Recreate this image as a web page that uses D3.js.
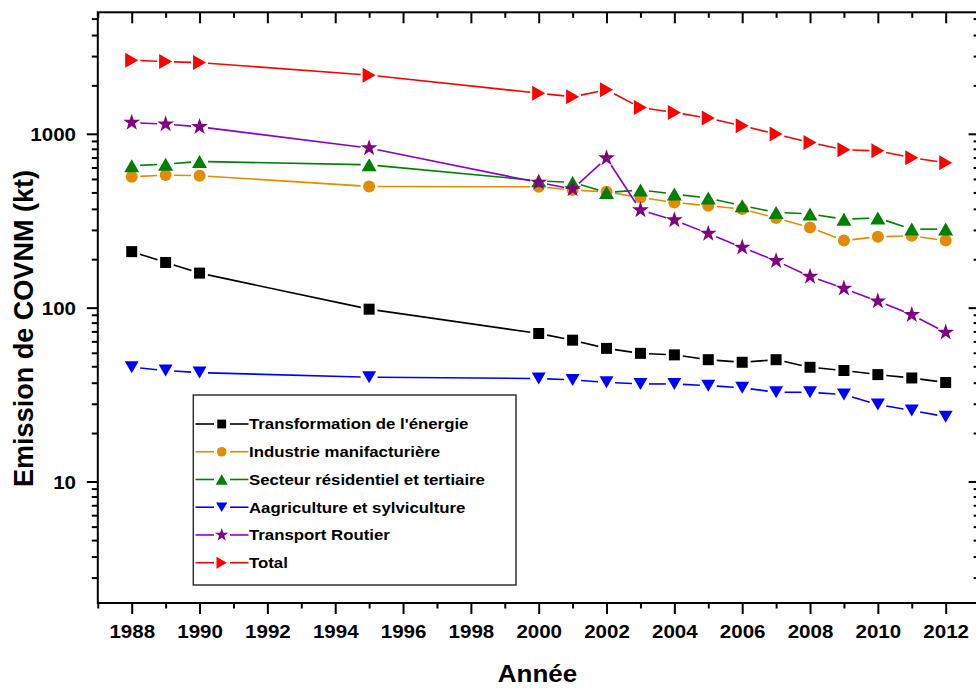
<!DOCTYPE html>
<html>
<head>
<meta charset="utf-8">
<script src="https://cdn.jsdelivr.net/npm/d3@7"></script>
<style>
  html, body { margin: 0; padding: 0; background: #fff; }
  svg { display: block; }
  text { font-family: "Liberation Sans", Arial, sans-serif; font-weight: bold; fill: #000; }
</style>
</head>
<body>
<script>
// ---------------- DATA ----------------
const years = [1988, 1989, 1990, 1995, 2000, 2001, 2002, 2003, 2004, 2005, 2006, 2007, 2008, 2009, 2010, 2011, 2012];
const energie     = [210, 182, 158, 98, 71, 65, 58.3, 54.6, 53.5, 50.2, 48.5, 50.2, 45.4, 43.5, 41.2, 39.4, 37.1];
const industrie   = [566, 579, 574, 498, 496, 475, 464, 430, 403, 386, 369, 328, 289, 243, 256, 259, 243];
const residentiel = [655, 669, 693, 663, 537, 525, 460, 475, 450, 427, 386, 353, 346, 323, 328, 283, 283];
const agriculture = [45.4, 43.5, 42.3, 39.8, 39.1, 38.4, 37.2, 36.4, 36.4, 35.6, 34.6, 32.6, 32.6, 31.6, 27.7, 25.6, 23.6];
const transport   = [1161, 1137, 1097, 828, 525, 481, 725, 364, 319, 267, 222, 186, 151, 129, 109, 91, 72];
const total       = [2652, 2603, 2569, 2175, 1713, 1632, 1790, 1416, 1326, 1231, 1112, 996, 891, 809, 798, 728, 681];

const seriesNames = ["Transformation de l'énergie", "Industrie manifacturière", "Secteur résidentiel et tertiaire",
                     "Aagriculture et sylviculture", "Transport Routier", "Total"];
const xMajorTicks = [1988, 1990, 1992, 1994, 1996, 1998, 2000, 2002, 2004, 2006, 2008, 2010, 2012];
const xMinorTicks = [1987, 1989, 1991, 1993, 1995, 1997, 1999, 2001, 2003, 2005, 2007, 2009, 2011, 2013];
const yMajorTicks = [10, 100, 1000];
const yTickLabels = ["10", "100", "1000"];
const xTitle = "Année";
const yTitle = "Emission de COVNM (kt)";

// ---------------- LAYOUT ----------------
const W = 976, H = 689;
const X0 = 97.8, X1 = 979.6, Y0 = 12.3, Y1 = 603;

const svg = d3.select("body").append("svg").attr("width", W).attr("height", H);
svg.append("rect").attr("width", W).attr("height", H).attr("fill", "#fff");

const x = d3.scaleLinear().domain([1987, 2013]).range([X0, X1]);
const y = d3.scaleLog().domain([2, 5000]).range([Y1, Y0]);

// minor ticks on log axis: 9 linearly spaced ticks per decade (Origin style)
const yMinorTicks = [];
[1, 10, 100, 1000].forEach(d => {
  for (let k = 1; k <= 9; k++) {
    const v = d + k * 0.9 * d;
    if (v > 2 && v < 5000) yMinorTicks.push(v);
  }
});

const TICK_SCALE = 1.11;
function styleAxis(g) {
  g.select(".domain").remove();
  g.selectAll(".tick line").attr("stroke", "#000").attr("stroke-width", 2);
}

// Bottom axis
const gb = svg.append("g").attr("transform", `translate(0,${Y1})`)
  .call(d3.axisBottom(x).tickValues(xMajorTicks).tickSize(11).tickFormat(d3.format("d")));
styleAxis(gb);
gb.selectAll(".tick text").attr("y", 0).attr("dy", 0)
  .attr("transform", `translate(0,35.3) scale(${TICK_SCALE},1)`)
  .attr("font-size", "18.5px").attr("font-family", null).attr("fill", "#000");
const gbm = svg.append("g").attr("transform", `translate(0,${Y1})`)
  .call(d3.axisBottom(x).tickValues(xMinorTicks).tickSize(5.5).tickFormat(""));
styleAxis(gbm);

// Top axis (inward ticks)
const gt = svg.append("g").attr("transform", `translate(0,${Y0})`)
  .call(d3.axisTop(x).tickValues(xMajorTicks).tickSize(-11).tickFormat(""));
styleAxis(gt);
const gtm = svg.append("g").attr("transform", `translate(0,${Y0})`)
  .call(d3.axisTop(x).tickValues(xMinorTicks).tickSize(-5.5).tickFormat(""));
styleAxis(gtm);

// Left axis
const gl = svg.append("g").attr("transform", `translate(${X0},0)`)
  .call(d3.axisLeft(y).tickValues(yMajorTicks).tickSize(11).tickFormat((d, i) => yTickLabels[i]));
styleAxis(gl);
gl.selectAll(".tick text").attr("x", 0).attr("dy", "0.36em")
  .attr("transform", `translate(-21.8,0) scale(${TICK_SCALE},1)`)
  .attr("font-size", "18.5px").attr("font-family", null).attr("fill", "#000");
const glm = svg.append("g").attr("transform", `translate(${X0},0)`)
  .call(d3.axisLeft(y).tickValues(yMinorTicks).tickSize(6).tickFormat(""));
styleAxis(glm);

// Right axis (inward ticks)
const gr = svg.append("g").attr("transform", `translate(${X1},0)`)
  .call(d3.axisRight(y).tickValues(yMajorTicks).tickSize(-11).tickFormat(""));
styleAxis(gr);
const grm = svg.append("g").attr("transform", `translate(${X1},0)`)
  .call(d3.axisRight(y).tickValues(yMinorTicks).tickSize(-6).tickFormat(""));
styleAxis(grm);

// Frame
svg.append("rect").attr("x", X0).attr("y", Y0).attr("width", X1 - X0).attr("height", Y1 - Y0)
  .attr("fill", "none").attr("stroke", "#000").attr("stroke-width", 2);

// Axis titles
svg.append("text").attr("text-anchor", "middle").attr("font-size", "23px")
  .attr("transform", `translate(537.5,681.5) scale(1.13,1)`).text(xTitle);
svg.append("text").attr("text-anchor", "middle").attr("font-size", "25px")
  .attr("textLength", 317).attr("lengthAdjust", "spacingAndGlyphs")
  .attr("transform", `translate(33,328.5) rotate(-90) scale(1,1.12)`).text(yTitle);

// ---------------- MARKERS ----------------
function markerPath(type, s) {
  switch (type) {
    case "square": { const h = 5.5 * s; return `M${-h},${-h}H${h}V${h}H${-h}Z`; }
    case "circle": { const r = 6 * s; return `M${r},0A${r},${r} 0 1,1 ${-r},0A${r},${r} 0 1,1 ${r},0Z`; }
    case "up": { const w = 7.5 * s, h = 6.5 * s; return `M0,${-h}L${w},${h}L${-w},${h}Z`; }
    case "down": { const w = 7 * s, h = 6 * s; return `M0,${h}L${w},${-h}L${-w},${-h}Z`; }
    case "right": { const w = 6.5 * s, h = 7.5 * s; return `M${w},0L${-w},${h}L${-w},${-h}Z`; }
    case "star": return d3.symbol(d3.symbolStar, 88 * s * s)();
  }
}

const series = [
  { name: seriesNames[0], values: energie,     line: "#000000", fill: "#000000", type: "square" },
  { name: seriesNames[1], values: industrie,   line: "#E68A00", fill: "#E38A08", type: "circle" },
  { name: seriesNames[2], values: residentiel, line: "#008000", fill: "#008000", type: "up" },
  { name: seriesNames[3], values: agriculture, line: "#0000FF", fill: "#0000FF", type: "down" },
  { name: seriesNames[4], values: transport,   line: "#8A00CC", fill: "#800080", type: "star" },
  { name: seriesNames[5], values: total,       line: "#FF0000", fill: "#FF0000", type: "right" }
];

const GAP = 8.5;
const plot = svg.append("g");
series.forEach(s => {
  const g = plot.append("g");
  const pts = years.map((yr, i) => [x(yr), y(s.values[i])]);
  const segs = [];
  for (let i = 0; i < pts.length - 1; i++) {
    const [ax, ay] = pts[i], [bx, by] = pts[i + 1];
    const dx = bx - ax, dy = by - ay, len = Math.hypot(dx, dy);
    if (len > 2 * GAP) {
      const ux = dx / len, uy = dy / len;
      segs.push([ax + ux * GAP, ay + uy * GAP, bx - ux * GAP, by - uy * GAP]);
    }
  }
  g.selectAll("line").data(segs).join("line")
    .attr("x1", d => d[0]).attr("y1", d => d[1]).attr("x2", d => d[2]).attr("y2", d => d[3])
    .attr("stroke", s.line).attr("stroke-width", 1.6);
  g.selectAll("path").data(pts).join("path")
    .attr("transform", d => `translate(${d[0]},${d[1]})`)
    .attr("d", markerPath(s.type, 1)).attr("fill", s.fill);
});

// ---------------- LEGEND ----------------
const LX = 193.3, LY = 395, LW = 322.7, LH = 190;
const leg = svg.append("g");
leg.append("rect").attr("x", LX).attr("y", LY).attr("width", LW).attr("height", LH)
  .attr("fill", "#fff").attr("stroke", "#333").attr("stroke-width", 1.5);
const rowY = d3.scaleLinear().domain([0, 5]).range([424, 562.7]);
series.forEach((s, i) => {
  const cy = rowY(i);
  const g = leg.append("g").attr("transform", `translate(0,${cy})`);
  g.append("line").attr("x1", 195.5).attr("x2", 214).attr("y1", 0).attr("y2", 0)
    .attr("stroke", s.line).attr("stroke-width", 1.6);
  g.append("line").attr("x1", 230).attr("x2", 248.5).attr("y1", 0).attr("y2", 0)
    .attr("stroke", s.line).attr("stroke-width", 1.6);
  g.append("path").attr("transform", "translate(221.7,0)")
    .attr("d", markerPath(s.type, 0.8)).attr("fill", s.fill);
  g.append("text").attr("font-size", "15px")
    .attr("transform", `translate(249,5.4) scale(1.12,1)`).text(s.name);
});
</script>
</body>
</html>
